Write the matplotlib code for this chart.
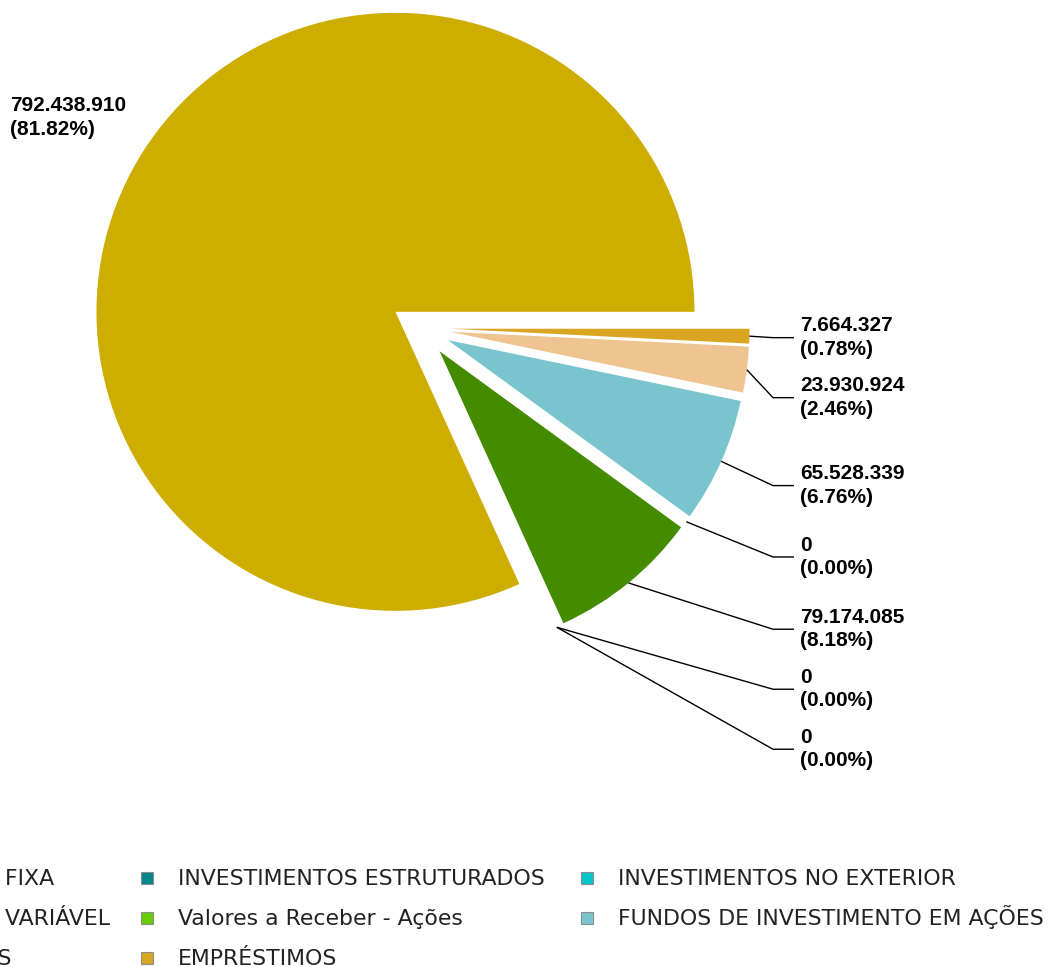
import matplotlib
matplotlib.use("Agg")
import matplotlib.pyplot as plt
from matplotlib.patches import Rectangle
import numpy as np

# ---- data ----
categories = ["RENDA FIXA", "INVESTIMENTOS ESTRUTURADOS", "INVESTIMENTOS NO EXTERIOR",
              "RENDA VARIÁVEL", "Valores a Receber - Ações", "FUNDOS DE INVESTIMENTO EM AÇÕES",
              "IMÓVEIS", "EMPRÉSTIMOS"]
values = [792438910, 0, 0, 79174085, 0, 65528339, 23930924, 7664327]
percent_labels = ["81.82", "0.00", "0.00", "8.18", "0.00", "6.76", "2.46", "0.78"]
colors = ["#CDAD00", "#00868B", "#00C5CD", "#458B00", "#66CD00", "#7AC5CD", "#EEC591", "#DAA520"]

# ---- layout / style ----
W, H = 1048, 967
fig = plt.figure(figsize=(W / 100, H / 100), dpi=100)
ax = fig.add_axes([0, 0, 1, 1])

radius = 299
center = (420.6, H - 328)
explode_frac = 0.1

wedges, _ = ax.pie(values, colors=colors, startangle=0, counterclock=True,
                   radius=radius, center=center,
                   explode=[explode_frac * radius] * len(values),
                   wedgeprops=dict(linewidth=0))
ax.set_xlim(0, W)
ax.set_ylim(0, H)
ax.set_aspect("auto")
ax.axis("off")

label_font = dict(family=["Liberation Sans", "DejaVu Sans"], fontweight="bold",
                  fontsize=15, color="black", linespacing=1.3)
link_radius = 1.30 * radius
label_spacing = 60
bend_x, end_x, text_x_right = 773, 794, 800
text_x_left = 10


def fmt(v):
    return f"{v:,}".replace(",", ".")


recs = []
for i, w in enumerate(wedges):
    tm = np.deg2rad((w.theta1 + w.theta2) / 2.0)
    cx, cy = w.center
    anchor = (cx + w.r * np.cos(tm), cy + w.r * np.sin(tm))
    nat_y = center[1] + link_radius * np.sin(tm)
    recs.append(dict(i=i, tm=tm, anchor=anchor, y=nat_y, right=np.cos(tm) >= 0))

right = sorted([r for r in recs if r["right"]], key=lambda r: (-r["y"], r["i"]))
prev = None
for r in right:
    if prev is not None:
        r["y"] = min(r["y"], prev - label_spacing)
    prev = r["y"]

for r in right:
    i = r["i"]
    ax.plot([r["anchor"][0], bend_x, end_x], [r["anchor"][1], r["y"], r["y"]],
            color="black", lw=1.0, solid_capstyle="butt")
    ax.text(text_x_right, r["y"], f"{fmt(values[i])}\n({percent_labels[i]}%)",
            ha="left", va="center", **label_font)

for r in recs:
    if not r["right"]:
        i = r["i"]
        ax.text(text_x_left, r["y"], f"{fmt(values[i])}\n({percent_labels[i]}%)",
                ha="left", va="center", **label_font)

# ---- legend (3 columns, row-major, partially outside the figure) ----
col_text_x = [-79, 178, 618]
row_center_px = [878, 918, 958]
for i, (name, c) in enumerate(zip(categories, colors)):
    row, col = divmod(i, 3)
    tx = col_text_x[col]
    yc = H - row_center_px[row]
    ax.add_patch(Rectangle((tx - 37, yc - 6), 12, 12, facecolor=c,
                           edgecolor="#8C8C8C", lw=0.8, clip_on=False))
    ax.text(tx, yc - 7, name, ha="left", va="baseline", fontsize=15.8,
            family=["DejaVu Sans"], color="#222222", clip_on=False)

fig.savefig("out.png", dpi=100, facecolor="white")
